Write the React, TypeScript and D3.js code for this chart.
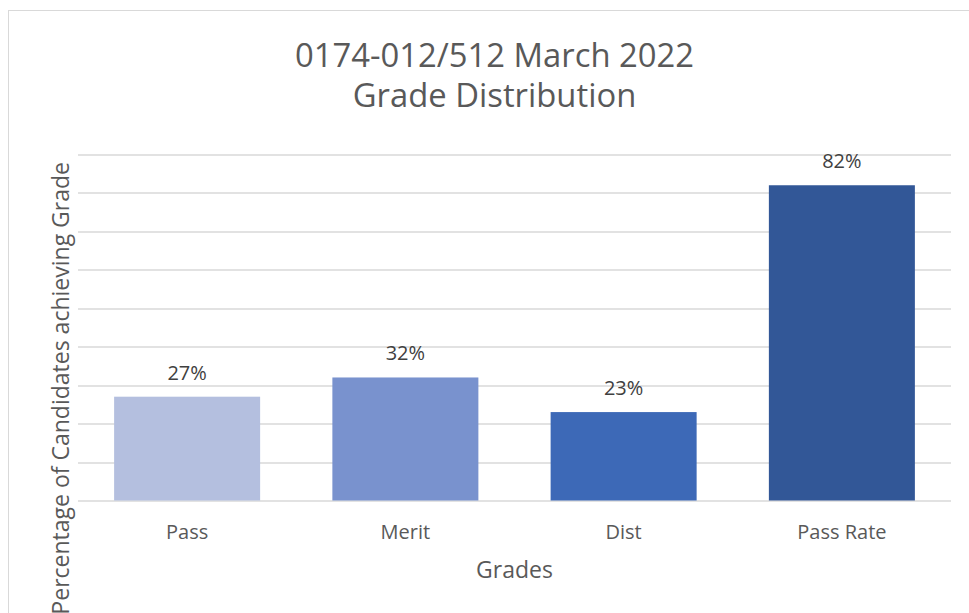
import React from 'react';
import * as d3 from 'd3';

const grades = ['Pass', 'Merit', 'Dist', 'Pass Rate'];
const percentages = [0.27, 0.32, 0.23, 0.82];
const gridTicks = [0, 0.1, 0.2, 0.3, 0.4, 0.5, 0.6, 0.7, 0.8, 0.9];

const barColors = ['#B4BFDF', '#7992CE', '#3D69B7', '#325797'];

const W = 969;
const H = 613;
const margin = { top: 154.5, right: 18, bottom: 112.5, left: 78 };
const font = "'Open Sans', 'DejaVu Sans', sans-serif";

const App: React.FC = () => {
  const innerW = W - margin.left - margin.right;
  const innerH = H - margin.top - margin.bottom;

  const x = d3
    .scaleBand<string>()
    .domain(grades)
    .range([0, innerW])
    .paddingInner(0.331)
    .paddingOuter(0.1655);

  const y = d3.scaleLinear().domain([0, 0.9]).range([innerH, 0]);

  const fmt = d3.format('.0%');

  return (
    <svg
      width={W}
      height={H}
      style={{ position: 'absolute', left: 0, top: 0, background: '#fff' }}
    >
      <rect x={8.5} y={10.5} width={1000} height={700} fill="#fff" stroke="#d9d9d9" />

      {/* title */}
      <text x={494.5} y={66.5} textAnchor="middle" fontFamily={font} fontSize={32.8} fill="#595959">
        0174-012/512 March 2022
      </text>
      <text x={494.5} y={107} textAnchor="middle" fontFamily={font} fontSize={32.8} fill="#595959">
        Grade Distribution
      </text>

      <g transform={`translate(${margin.left},${margin.top})`}>
        {gridTicks.map((t) => (
          <line
            key={t}
            x1={0}
            x2={innerW}
            y1={Math.round(y(t)) + 0.5}
            y2={Math.round(y(t)) + 0.5}
            stroke="#d9d9d9"
            strokeWidth={1.3}
          />
        ))}

        {grades.map((g, i) => (
          <rect
            key={g}
            x={x(g)}
            y={y(percentages[i])}
            width={x.bandwidth()}
            height={innerH - y(percentages[i])}
            fill={barColors[i]}
          />
        ))}

        {grades.map((g, i) => (
          <text
            key={g + '-v'}
            x={(x(g) || 0) + x.bandwidth() / 2}
            y={y(percentages[i]) - 17}
            textAnchor="middle"
            fontFamily={font}
            fontSize={20}
            fill="#404040"
          >
            {fmt(percentages[i])}
          </text>
        ))}

        {grades.map((g) => (
          <text
            key={g + '-l'}
            x={(x(g) || 0) + x.bandwidth() / 2}
            y={innerH + 38.5}
            textAnchor="middle"
            fontFamily={font}
            fontSize={20}
            fill="#595959"
          >
            {g}
          </text>
        ))}

        <text
          x={innerW / 2}
          y={innerH + 77.5}
          textAnchor="middle"
          fontFamily={font}
          fontSize={23}
          fill="#595959"
        >
          Grades
        </text>
      </g>

      <text
        transform={`translate(69,162) rotate(-90)`}
        textAnchor="end"
        fontFamily={font}
        fontSize={23}
        fill="#595959"
      >
        Percentage of Candidates achieving Grade
      </text>
    </svg>
  );
};

export default App;
